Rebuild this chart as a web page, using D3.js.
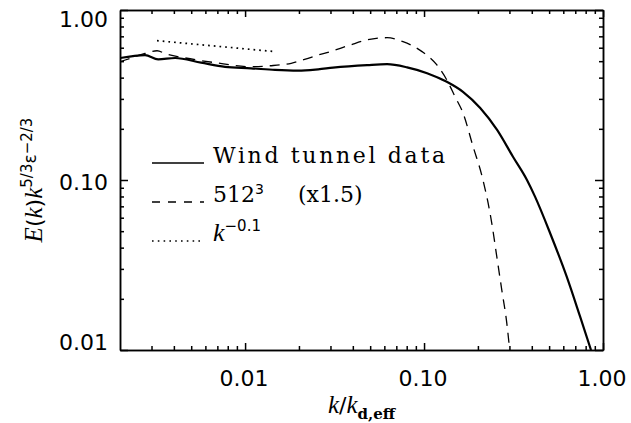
<!DOCTYPE html>
<html>
<head>
<meta charset="utf-8">
<script src="https://cdn.jsdelivr.net/npm/d3@7"></script>
<style>
  body { margin: 0; background: #fff; }
  svg { display: block; }
  .axis path, .axis line { stroke: #000; stroke-width: 1.5; }
  .axis text { font-family: "DejaVu Sans", sans-serif; font-size: 22px; fill: #000; }
</style>
</head>
<body>
<div id="chart"></div>
<script>

// Wind tunnel data (k/k_d,eff , E k^5/3 eps^-2/3)
var windK   = [0.00200, 0.00276, 0.00327, 0.00406, 0.00568, 0.00773, 0.0108, 0.0147, 0.0198, 0.0256,
               0.0310, 0.0481, 0.0621, 0.0804, 0.104, 0.134, 0.165, 0.206, 0.256, 0.314,
               0.376, 0.417, 0.506, 0.627, 0.745, 0.857];
var windE   = [0.522, 0.543, 0.513, 0.522, 0.490, 0.463, 0.454, 0.444, 0.440, 0.448,
               0.458, 0.474, 0.480, 0.460, 0.425, 0.378, 0.330, 0.265, 0.197, 0.137,
               0.100, 0.0798, 0.0488, 0.0270, 0.0157, 0.0100];

// 512^3 run (x1.5)
var simK    = [0.00200, 0.00214, 0.00276, 0.00322, 0.00362, 0.00434, 0.00679, 0.0108, 0.0138, 0.0181,
               0.0225, 0.0256, 0.0299, 0.0386, 0.0481, 0.0621, 0.0763, 0.0975, 0.118, 0.134,
               0.149, 0.165, 0.188, 0.211, 0.239, 0.255, 0.272, 0.290, 0.301];
var simE    = [0.496, 0.508, 0.555, 0.576, 0.551, 0.529, 0.490, 0.464, 0.470, 0.486,
               0.520, 0.543, 0.569, 0.622, 0.667, 0.687, 0.651, 0.569, 0.475, 0.388,
               0.309, 0.248, 0.157, 0.105, 0.0558, 0.0354, 0.0225, 0.0144, 0.0100];

// k^-0.1 reference segment
var slopeK  = [0.00322, 0.0147];
var slopeE  = [0.660, 0.569];

var xMajor = [0.01, 0.1, 1];
var xMinor = [0.003, 0.004, 0.005, 0.006, 0.007, 0.008, 0.009,
              0.02, 0.03, 0.04, 0.05, 0.06, 0.07, 0.08, 0.09,
              0.2, 0.3, 0.4, 0.5, 0.6, 0.7, 0.8, 0.9];
var yMajor = [0.01, 0.1, 1];
var yMinor = [0.02, 0.03, 0.04, 0.05, 0.06, 0.07, 0.08, 0.09,
              0.2, 0.3, 0.4, 0.5, 0.6, 0.7, 0.8, 0.9];
var legendLabels = ["Wind tunnel data", "512", "k"];

var W = 631, H = 423;
var margin = {left: 120, right: 28, top: 10, bottom: 73};
var width = W - margin.left - margin.right;
var height = H - margin.top - margin.bottom;

var xScale = d3.scaleLog().domain([0.002, 1]).range([0, width]);
var yScale = d3.scaleLog().domain([0.01, 1]).range([height, 0]);

var svg = d3.select("#chart").append("svg")
            .attr("width", W)
            .attr("height", H)
            .append("g")
            .attr("transform", "translate(" + margin.left + "," + margin.top + ")");

svg.append("clipPath").attr("id", "plotclip")
   .append("rect").attr("width", width).attr("height", height);

// minor ticks on all four sides
svg.append("g").attr("class", "axis")
   .call(d3.axisLeft(yScale).tickValues(yMinor).tickSize(-4).tickSizeOuter(0).tickFormat(""));
svg.append("g").attr("class", "axis").attr("transform", "translate(" + width + ",0)")
   .call(d3.axisRight(yScale).tickValues(yMinor).tickSize(-4).tickSizeOuter(0).tickFormat(""));
svg.append("g").attr("class", "axis").attr("transform", "translate(0," + height + ")")
   .call(d3.axisBottom(xScale).tickValues(xMinor).tickSize(-4).tickSizeOuter(0).tickFormat(""));
svg.append("g").attr("class", "axis")
   .call(d3.axisTop(xScale).tickValues(xMinor).tickSize(-4).tickSizeOuter(0).tickFormat(""));

// major ticks + labels
var yAx = svg.append("g").attr("class", "axis")
   .call(d3.axisLeft(yScale).tickValues(yMajor).tickSize(-8).tickSizeOuter(0).tickPadding(12)
           .tickFormat(d3.format(".2f")));
yAx.selectAll(".tick text").attr("y", function(d) {
  var p = yScale(d);
  var c = Math.max(9.5, Math.min(height - 7.5, p + 2));
  return c - p;
});
svg.append("g").attr("class", "axis").attr("transform", "translate(" + width + ",0)")
   .call(d3.axisRight(yScale).tickValues(yMajor).tickSize(-8).tickSizeOuter(0).tickFormat(""));
var xAx = svg.append("g").attr("class", "axis").attr("transform", "translate(0," + height + ")")
   .call(d3.axisBottom(xScale).tickValues(xMajor).tickSize(-7).tickSizeOuter(0).tickPadding(20)
           .tickFormat(d3.format(".2f")));
xAx.selectAll(".tick text").attr("x", -1.5);
svg.append("g").attr("class", "axis")
   .call(d3.axisTop(xScale).tickValues(xMajor).tickSize(-7).tickSizeOuter(0).tickFormat(""));

// curves
var line = d3.line()
  .curve(d3.curveMonotoneX)
  .x(function(d) { return xScale(d[0]); })
  .y(function(d) { return yScale(d[1]); });

var plot = svg.append("g").attr("clip-path", "url(#plotclip)");

plot.append("path")
    .datum(d3.zip(windK, windE))
    .attr("d", line)
    .attr("fill", "none").attr("stroke", "#000").attr("stroke-width", 2.2);

plot.append("path")
    .datum(d3.zip(simK, simE))
    .attr("d", line)
    .attr("fill", "none").attr("stroke", "#000").attr("stroke-width", 1.3)
    .attr("stroke-dasharray", "10,7");

plot.append("path")
    .datum(d3.zip(slopeK, slopeE))
    .attr("d", d3.line().x(function(d) { return xScale(d[0]); }).y(function(d) { return yScale(d[1]); }))
    .attr("fill", "none").attr("stroke", "#000").attr("stroke-width", 1.7)
    .attr("stroke-dasharray", "1.7,4");

// legend
var serif = "'DejaVu Serif', serif";
var ital = "'Liberation Serif', serif";
var sans = "'DejaVu Sans', sans-serif";
var rows = [153, 192, 231];
var dashes = [null, "8,8", "1.6,4.2"];
var widths = [1.5, 1.3, 1.6];

rows.forEach(function(ry, i) {
  svg.append("line")
     .attr("x1", 32).attr("x2", 84).attr("y1", ry).attr("y2", ry)
     .attr("stroke", "#000").attr("stroke-width", widths[i])
     .attr("stroke-dasharray", dashes[i]);
});

svg.append("text").attr("x", 93).attr("y", rows[0])
   .style("font-family", serif).style("font-size", "22px")
   .attr("textLength", 232).attr("lengthAdjust", "spacing")
   .text(legendLabels[0]);

var t2 = svg.append("text").attr("x", 93).attr("y", rows[1])
   .style("font-family", serif).style("font-size", "22px");
t2.append("tspan").text(legendLabels[1]);
t2.append("tspan").attr("dy", -8).style("font-size", "14px").style("font-family", sans).text("3");
t2.append("tspan").attr("dy", 8).attr("x", 178).text("(x1.5)");

var t3 = svg.append("text").attr("x", 93).attr("y", rows[2]);
t3.append("tspan").style("font-family", ital).style("font-style", "italic").style("font-size", "26px").text(legendLabels[2]);
t3.append("tspan").attr("dy", -10).style("font-family", sans).style("font-size", "15px").text("\u22120.1");

// y title
var yt = d3.select("svg").append("text")
   .attr("transform", "translate(42,180) rotate(-90)")
   .attr("text-anchor", "middle")
   .style("font-family", sans).style("font-size", "22px");
yt.append("tspan").style("font-family", ital).style("font-style", "italic").style("font-size", "25px").text("E");
yt.append("tspan").text("(");
yt.append("tspan").style("font-family", ital).style("font-style", "italic").style("font-size", "25px").text("k");
yt.append("tspan").text(")");
yt.append("tspan").style("font-family", ital).style("font-style", "italic").style("font-size", "25px").text("k");
yt.append("tspan").attr("dy", -10).style("font-size", "15px").text("5/3");
yt.append("tspan").attr("dy", 4).style("font-size", "17px").text("\u03b5");
yt.append("tspan").attr("dy", -4).style("font-size", "15px").text("\u22122/3");

// x title
var xt = d3.select("svg").append("text")
   .attr("x", margin.left + width / 2).attr("y", 413)
   .attr("text-anchor", "middle")
   .style("font-family", ital).style("font-size", "25px");
xt.append("tspan").style("font-style", "italic").text("k");
xt.append("tspan").style("font-family", sans).style("font-size", "22px").text("/");
xt.append("tspan").style("font-style", "italic").text("k");
xt.append("tspan").attr("dy", 6).style("font-family", serif).style("font-weight", "bold").style("font-size", "15px").text("d,eff");

</script>
</body>
</html>
